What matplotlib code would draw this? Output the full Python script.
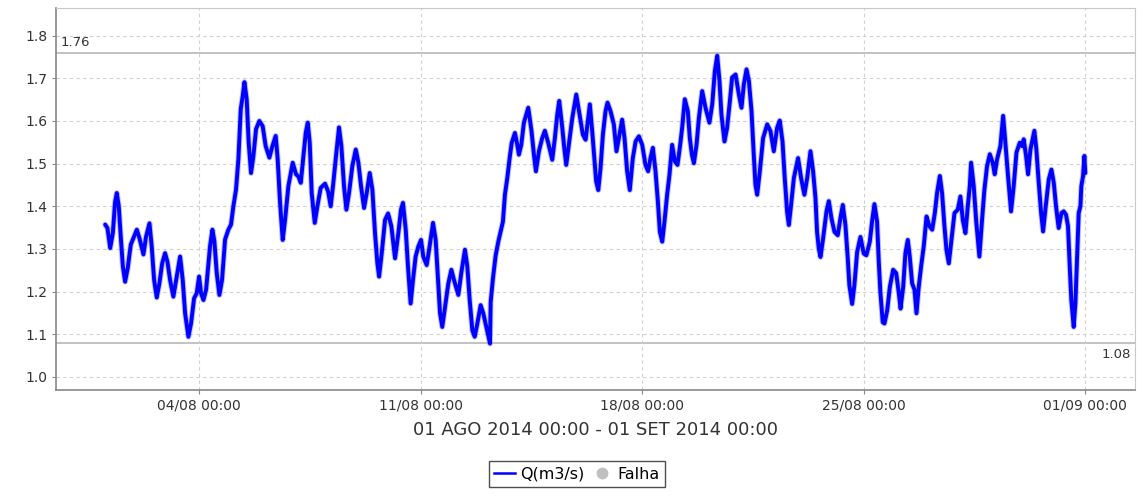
import datetime as dt
import matplotlib
matplotlib.use("Agg")
import matplotlib.pyplot as plt
from matplotlib.lines import Line2D

# hours after 01/08/2014 00:00 and flow Q (m3/s)
hours = [
    0.8, 2.5, 4.6, 6.6, 8.3, 9.6, 11.1, 12.6, 14.2, 15.9, 17.9, 20.2, 22.2, 24.8,
    26.8, 29.8, 31.8, 34.4, 36.1, 37.9, 39.9, 41.9, 44.0, 46.2, 48.0, 50.0, 52.5,
    54.6, 57.6, 59.6, 61.4, 63.9, 65.9, 68.2, 70.2, 72.0, 73.5, 75.3, 77.3, 80.3,
    82.1, 83.6, 85.4, 87.4, 89.4, 91.7, 94.2, 96.2, 98.0, 100.0, 101.8, 103.6,
    105.1, 106.4, 108.1, 109.6, 111.4, 113.2, 115.2, 117.7, 120.2, 122.5, 125.3,
    127.6, 130.1, 131.6, 133.4, 135.4, 137.2, 139.7, 143.0, 145.5,
    147.3, 149.1, 150.9, 152.9, 154.4, 155.9, 157.4, 159.7, 161.7, 164.2, 167.5,
    169.8, 171.8, 173.8, 176.1, 178.1, 179.9, 181.9, 183.7, 185.7, 188.2, 190.8,
    192.8, 194.8, 197.1, 199.1, 201.4, 203.4, 205.4, 207.2, 208.5, 210.5, 213.0,
    215.3, 217.8, 220.6, 223.1, 225.1, 226.6, 228.7, 230.4, 232.4, 234.2, 236.2,
    238.3, 240.3, 242.0, 244.6, 246.8, 249.4, 251.4, 253.4, 254.7, 256.4, 258.5,
    261.0, 263.3, 265.3, 268.6, 270.8, 273.6, 275.4, 277.2, 279.2, 281.0, 283.0,
    285.5, 287.5, 289.8, 292.6,
    293.1, 294.8, 296.9, 298.9, 300.6, 302.4, 303.9, 305.7, 307.5, 309.0, 311.5,
    313.3, 314.5, 316.3, 318.3, 321.6, 324.1, 325.9, 327.4, 329.7, 332.2, 334.2,
    336.8, 339.8, 341.8, 343.6, 345.1, 347.4, 348.9, 350.4, 352.4, 355.0, 358.0,
    360.5, 363.0, 365.1, 366.8, 368.3, 370.1, 371.9, 373.1, 374.7, 376.4, 378.2,
    380.2, 381.7, 384.0, 386.5, 388.5, 390.3, 392.8, 394.6, 396.6, 398.6, 400.9,
    403.0, 405.5, 408.0, 410.5, 412.5, 414.3, 416.1, 418.1, 419.9, 421.4, 423.2,
    424.9, 426.9, 428.7, 430.7, 432.8, 434.8, 436.8, 438.3, 440.3,
    442.6, 444.1, 445.7, 447.2, 449.2, 451.0, 453.5, 456.0, 459.0, 461.1, 463.1,
    464.9, 466.6, 468.1, 470.4, 472.4, 474.5, 476.2, 478.8, 481.3, 483.3, 485.1,
    487.1, 488.9, 490.9, 492.6, 493.9, 495.2, 497.2, 499.7, 502.8, 505.3, 507.8,
    510.3, 512.3, 514.4, 516.1, 517.9, 519.2, 520.9, 523.0, 526.2, 528.5, 531.0,
    533.1, 535.6, 537.6, 539.4, 540.6, 541.9, 543.2, 545.2, 547.7, 549.5, 551.5,
    553.8, 556.3, 558.3, 560.1, 562.1, 563.9, 565.1, 567.2, 568.9, 571.0, 573.5,
    576.0, 578.0, 580.6, 582.3, 584.1, 586.1, 587.4, 588.6, 590.4,
    591.7, 593.8, 595.8, 598.3, 600.6, 602.6, 603.9, 605.9, 607.6, 609.4, 610.9,
    612.7, 614.5, 616.0, 617.7, 619.5, 621.5, 623.6, 625.8, 627.9, 629.9, 631.6,
    633.7, 635.4, 637.2, 638.7, 640.5, 642.5, 644.8, 647.3, 649.3, 651.1, 653.1,
    654.9, 656.4, 657.4, 659.4, 661.2, 663.7, 665.7, 667.5, 669.5, 671.6, 673.8,
    675.3, 677.1, 679.6, 681.7, 683.4, 685.4, 687.7, 689.7, 691.8, 694.3, 696.1,
    697.3, 699.1, 700.6, 702.4, 705.4, 706.9, 708.7, 710.5, 712.0, 714.0, 716.3,
    718.3, 720.1, 721.8, 723.8, 725.9, 727.6, 729.4, 730.9, 732.2, 733.4, 735.2,
    736.5, 737.7, 739.0, 740.3, 741.0, 742.3, 743.3, 744.0,
]
flow = [
    1.357, 1.349, 1.302, 1.337, 1.410, 1.431, 1.400, 1.329, 1.259, 1.223, 1.255,
    1.310, 1.325, 1.345, 1.325, 1.287, 1.329, 1.360, 1.305, 1.227, 1.186, 1.219,
    1.266, 1.290, 1.270, 1.227, 1.188, 1.227, 1.282, 1.227, 1.149, 1.094, 1.125,
    1.184, 1.196, 1.235, 1.196, 1.180, 1.204, 1.306, 1.345, 1.318, 1.243, 1.192,
    1.227, 1.322, 1.345, 1.357, 1.400, 1.439, 1.510, 1.628, 1.659, 1.691, 1.651,
    1.549, 1.478, 1.518, 1.581, 1.600, 1.588, 1.541, 1.514, 1.541, 1.565, 1.510,
    1.408, 1.321, 1.368, 1.447, 1.502, 1.475,
    1.470, 1.455, 1.510, 1.573, 1.596, 1.549, 1.431, 1.361, 1.400, 1.443, 1.453,
    1.435, 1.400, 1.455, 1.526, 1.585, 1.541, 1.447, 1.392, 1.431, 1.494, 1.533,
    1.502, 1.447, 1.396, 1.431, 1.478, 1.439, 1.337, 1.266, 1.235, 1.290, 1.368,
    1.383, 1.353, 1.278, 1.337, 1.392, 1.408, 1.345, 1.259, 1.172, 1.227, 1.282,
    1.306, 1.321, 1.282, 1.262, 1.306, 1.361, 1.321, 1.219, 1.149, 1.117, 1.164,
    1.219, 1.251, 1.227, 1.192, 1.243, 1.298, 1.259, 1.180, 1.109, 1.094, 1.125,
    1.168, 1.149, 1.117, 1.078,
    1.175, 1.230, 1.285, 1.317, 1.340, 1.364, 1.427, 1.466, 1.513, 1.548, 1.572,
    1.544, 1.521, 1.544, 1.596, 1.631, 1.576, 1.521, 1.482, 1.529, 1.560, 1.577,
    1.548, 1.509, 1.560, 1.615, 1.647, 1.584, 1.537, 1.497, 1.544, 1.607, 1.662,
    1.615, 1.568, 1.556, 1.599, 1.639, 1.576, 1.505, 1.458, 1.438, 1.489, 1.568,
    1.623, 1.643, 1.623, 1.592, 1.529, 1.560, 1.603, 1.560, 1.482, 1.438, 1.513,
    1.552, 1.564, 1.544, 1.497, 1.482, 1.513, 1.537, 1.482, 1.411, 1.340, 1.317,
    1.364, 1.427, 1.474, 1.544, 1.505, 1.497, 1.544, 1.584, 1.651,
    1.623, 1.560, 1.521, 1.501, 1.544, 1.607, 1.670, 1.631, 1.596, 1.639, 1.717,
    1.753, 1.694, 1.615, 1.552, 1.584, 1.647, 1.702, 1.709, 1.662, 1.631, 1.686,
    1.721, 1.694, 1.623, 1.521, 1.450, 1.427, 1.482, 1.560, 1.592, 1.576, 1.529,
    1.584, 1.601, 1.552, 1.466, 1.387, 1.356, 1.403, 1.466, 1.513, 1.466, 1.427,
    1.466, 1.529, 1.482, 1.419, 1.340, 1.301, 1.281, 1.325, 1.387, 1.412, 1.372,
    1.340, 1.332, 1.372, 1.403, 1.356, 1.277, 1.215, 1.171, 1.215, 1.293, 1.328,
    1.289, 1.285, 1.317, 1.364, 1.405, 1.364, 1.270, 1.199, 1.128,
    1.125, 1.156, 1.211, 1.251, 1.243, 1.196, 1.160, 1.211, 1.290, 1.321, 1.282,
    1.219, 1.204, 1.149, 1.211, 1.259, 1.306, 1.376, 1.353, 1.345, 1.384, 1.431,
    1.471, 1.431, 1.353, 1.298, 1.266, 1.321, 1.384, 1.392, 1.423, 1.368, 1.337,
    1.400, 1.447, 1.502, 1.447, 1.368, 1.282, 1.368, 1.439, 1.494, 1.522, 1.502,
    1.475, 1.510, 1.541, 1.612, 1.549, 1.471, 1.388, 1.447, 1.526, 1.549, 1.541,
    1.557, 1.518, 1.475, 1.533, 1.577, 1.533, 1.455, 1.384, 1.341, 1.400, 1.463,
    1.486, 1.455, 1.400, 1.349, 1.384, 1.388, 1.380, 1.353, 1.259, 1.180, 1.117,
    1.172, 1.274, 1.384, 1.400, 1.447, 1.471, 1.518, 1.478,
]

max_flow = 1.76
min_flow = 1.08
tick_labels = ["04/08 00:00", "11/08 00:00", "18/08 00:00", "25/08 00:00", "01/09 00:00"]
period_label = "01 AGO 2014 00:00 - 01 SET 2014 00:00"

start = dt.datetime(2014, 8, 1)
end = dt.datetime(2014, 9, 1)
times = [start + dt.timedelta(hours=h) for h in hours]
tick_dates = [dt.datetime.strptime(t + " 2014", "%d/%m %H:%M %Y") for t in tick_labels]

plt.rcParams['font.family'] = ['DejaVu Sans']

fig = plt.figure(figsize=(11.44, 4.99), dpi=100)
ax = fig.add_axes([0.049, 0.2184, 0.943, 0.7656])

# soft halo under the line, the original is drawn with dense small dots
ax.plot(times, flow, color='#7070ff', lw=4.2, alpha=0.45, solid_joinstyle='round',
        solid_capstyle='round')
ax.plot(times, flow, color='#0000ff', lw=2.8, solid_joinstyle='round',
        solid_capstyle='round')

ax.axhline(max_flow, color='#b8b8b8', lw=1.2, zorder=1)
ax.axhline(min_flow, color='#b8b8b8', lw=1.2, zorder=1)
ax.text(0.004, max_flow + 0.008, f"{max_flow:.2f}", transform=ax.get_yaxis_transform(),
        ha='left', va='bottom', fontsize=9.5, color='#333333')
ax.text(0.996, min_flow - 0.012, f"{min_flow:.2f}", transform=ax.get_yaxis_transform(),
        ha='right', va='top', fontsize=9.5, color='#333333')

span = end - start
ax.set_xlim(start - span * 0.049, end + span * 0.0505)
ax.set_ylim(0.969, 1.865)
ax.set_yticks([1.0, 1.1, 1.2, 1.3, 1.4, 1.5, 1.6, 1.7, 1.8])
ax.yaxis.set_major_formatter(matplotlib.ticker.FormatStrFormatter('%.1f'))
ax.set_xticks(tick_dates)
ax.set_xticklabels(tick_labels)

ax.grid(True, color='#d0d0d0', linestyle=(0, (3, 3)), lw=0.8)
ax.tick_params(labelsize=10, labelcolor='#333333', color='#888888', length=3, pad=3)
for side in ['top', 'right']:
    ax.spines[side].set_color('#c8c8c8')
for side in ['left', 'bottom']:
    ax.spines[side].set_color('#888888')
    ax.spines[side].set_linewidth(1.2)

ax.set_xlabel(period_label, fontsize=13, color='#333333', labelpad=6)

handles = [
    Line2D([], [], color='#0000ff', lw=1.8),
    Line2D([], [], color='#c0c0c0', marker='o', linestyle='none', markersize=7.5),
]
leg = fig.legend(handles, ["Q(m3/s)", "Falha"], loc='upper center',
                 bbox_to_anchor=(577 / 1144, 1 - 461 / 499), ncol=2, frameon=True,
                 fancybox=False, fontsize=11.5, handlelength=1.3, handletextpad=0.3,
                 columnspacing=0.5, borderpad=0.35, borderaxespad=0)
leg.get_frame().set_edgecolor('#222222')
leg.get_frame().set_linewidth(1.0)

fig.savefig("out.png", dpi=100)
